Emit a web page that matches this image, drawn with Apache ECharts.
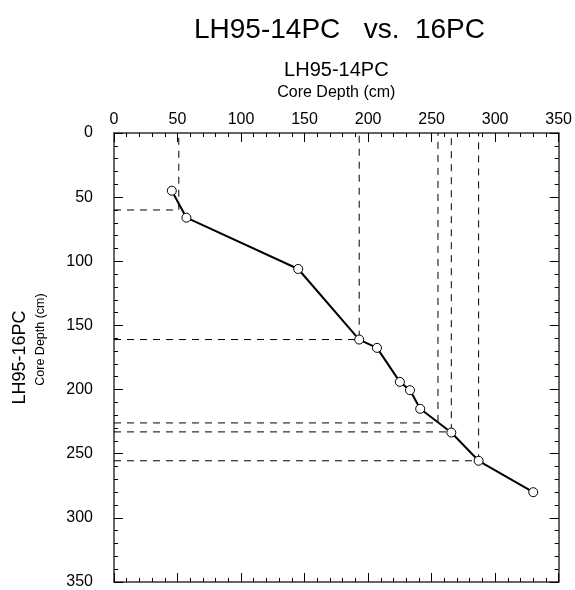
<!DOCTYPE html>
<html>
<head>
<meta charset="utf-8">
<script src="https://cdn.jsdelivr.net/npm/echarts@6/dist/echarts.min.js"></script>
<style>
html, body { margin: 0; padding: 0; background: #fff; }
#main { width: 575px; height: 590px; }
</style>
</head>
<body>
<div id="main"></div>
<script>
// core depths (cm) of the correlated levels
var depth14 = [45.5, 57, 145, 193, 207, 225, 233, 241, 265.5, 287, 330];
var depth16 = [45, 66, 106, 161, 167.5, 194, 200.5, 215, 233.5, 255.5, 280];
// tie points, drawn as dashed guides to the axes
var tieX = [51, 193, 255, 265.5, 287];
var tieY = [60, 161, 226, 233, 255.5];

var font = 'Liberation Sans, Arial, Helvetica, sans-serif';
var myChart = echarts.init(document.getElementById('main'));

var pts = depth14.map(function (x, i) { return [x, depth16[i]]; });

var guides = tieX.map(function (x, i) {
    return {
        type: 'line',
        xAxisIndex: 0,
        yAxisIndex: 0,
        data: [[0, tieY[i]], [x, tieY[i]], [x, 0]],
        symbol: 'none',
        silent: true,
        z: 1,
        lineStyle: { color: '#000', width: 1, type: [7, 6] }
    };
});

function axisCommon(pos, labels) {
    return {
        type: 'value',
        position: pos,
        min: 0,
        max: 350,
        interval: 50,
        splitLine: { show: false },
        axisLine: { show: true, onZero: false, lineStyle: { color: '#333', width: 1.5 } },
        axisTick: { show: true, inside: true, length: 9, lineStyle: { color: '#000', width: 1 } },
        minorTick: { show: true, splitNumber: 5, length: 4, lineStyle: { color: '#000', width: 1 } },
        axisLabel: { show: labels, color: '#000', fontSize: 16, fontFamily: font }
    };
}

var xTop = axisCommon('top', true);
xTop.axisLabel.margin = 5;
xTop.name = '{a|LH95-14PC}\n{b|Core Depth (cm)}';
xTop.nameLocation = 'middle';
xTop.nameGap = 30;
xTop.nameTextStyle = {
    rich: {
        a: { fontSize: 20, fontFamily: font, color: '#000', lineHeight: 26 },
        b: { fontSize: 16, fontFamily: font, color: '#000', lineHeight: 20 }
    }
};
var xBottom = axisCommon('bottom', false);

var yLeft = axisCommon('left', true);
yLeft.inverse = true;
yLeft.axisLabel.margin = 21;
yLeft.axisLabel.padding = [5, 0, 0, 0];
yLeft.name = '{a|LH95-16PC}\n{b|Core Depth (cm)}';
yLeft.nameLocation = 'middle';
yLeft.nameGap = 64;
yLeft.nameRotate = 90;
yLeft.nameTextStyle = {
    rich: {
        a: { fontSize: 18, fontFamily: font, color: '#000', lineHeight: 23 },
        b: { fontSize: 12.5, fontFamily: font, color: '#000', lineHeight: 18, padding: [0, 0, 0, 36] }
    }
};
var yRight = axisCommon('right', false);
yRight.inverse = true;

var option = {
    backgroundColor: '#fff',
    animation: false,
    title: {
        text: 'LH95-14PC   vs.  16PC',
        left: 189,
        top: 11,
        textStyle: { fontSize: 28, fontWeight: 'normal', fontFamily: font, color: '#000' }
    },
    grid: { left: 114, top: 133, right: 12, bottom: 8 },
    xAxis: [xTop, xBottom],
    yAxis: [yLeft, yRight],
    series: guides.concat([{
        type: 'line',
        xAxisIndex: 0,
        yAxisIndex: 0,
        data: pts,
        symbol: 'circle',
        symbolSize: 9,
        z: 3,
        itemStyle: { color: '#fff', borderColor: '#000', borderWidth: 1 },
        lineStyle: { color: '#000', width: 2 }
    }])
};

myChart.setOption(option);
window.onresize = myChart.resize;
</script>
</body>
</html>
